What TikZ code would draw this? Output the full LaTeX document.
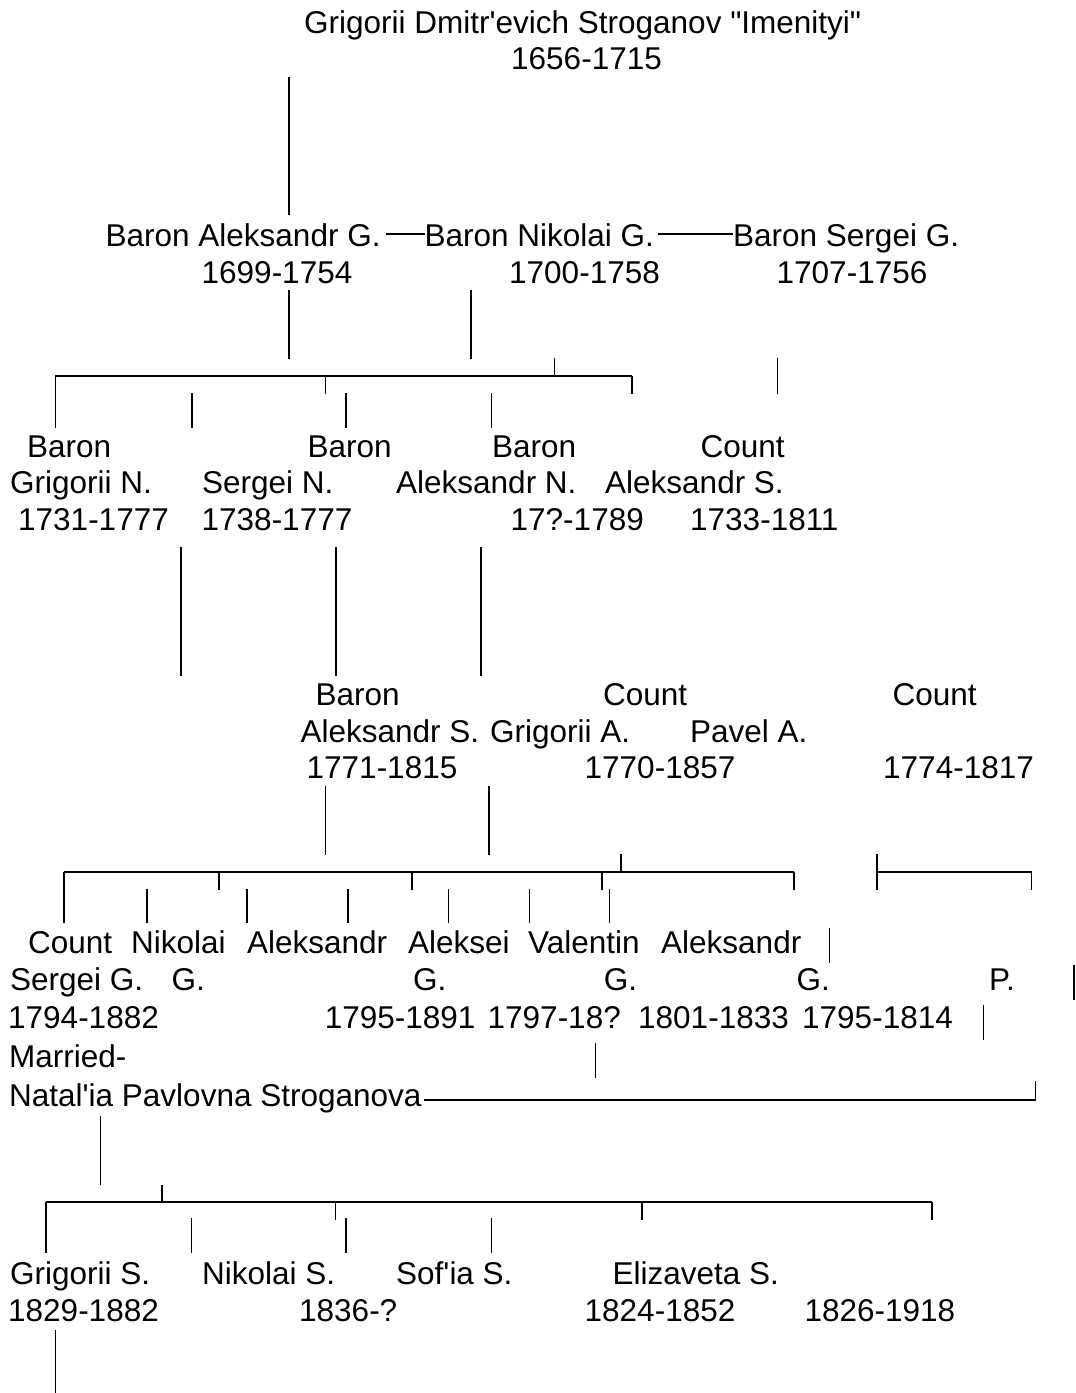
\documentclass[tikz,border=0pt]{standalone}
\usepackage{fontspec}
\setmainfont{Liberation Sans}
\newcommand\vseg[4]{\coordinate (#1a) at (#2,#3); \coordinate (#1b) at (#2,#4); \draw[vl] (#1a) -- (#1b);}
\newcommand\hseg[4]{\coordinate (#1a) at (#3,#2); \coordinate (#1b) at (#4,#2); \draw[hl] (#1a) -- (#1b);}
\begin{document}
\begin{tikzpicture}[x=1pt,y=-1pt,
  txt/.style={anchor=base west,inner sep=0pt,font=\fontsize{31.5}{37}\selectfont},
  vl/.style={line width=1.5pt,line cap=butt},
  hl/.style={line width=2pt,line cap=butt}]
\fill[white] (0,0) rectangle (1076,1393);
\useasboundingbox (0,0) rectangle (1076,1393);
% ---------------- texts ----------------
\node[txt] (gd) at (304,33) {Grigorii Dmitr\textquotesingle evich Stroganov \textquotedbl Imenityi\textquotedbl};
\node[txt] (gdy) at (511,69.5) {1656-1715};
\node[txt] (ag) at (105.5,246) {Baron Aleksandr G.};
\node[txt] (ng) at (424.5,246) {Baron Nikolai G.};
\node[txt] (sg) at (733,246) {Baron Sergei G.};
\node[txt] (agy) at (201.5,283) {1699-1754};
\node[txt] (ngy) at (509,283) {1700-1758};
\node[txt] (sgy) at (776.5,283) {1707-1756};
% row E-G
\node[txt] (e1) at (27,457) {Baron};
\node[txt] (e2) at (307.5,457) {Baron};
\node[txt] (e3) at (492,457) {Baron};
\node[txt] (e4) at (700.5,457) {Count};
\node[txt] (f1) at (10,493.5) {Grigorii N.};
\node[txt] (f2) at (202,493.5) {Sergei N.};
\node[txt] (f3) at (396,493.5) {Aleksandr N.};
\node[txt] (f4) at (605,493.5) {Aleksandr S.};
\node[txt] (g1) at (18,530) {1731-1777};
\node[txt] (g2) at (201.5,530) {1738-1777};
\node[txt] (g3) at (510.5,530) {17?-1789};
\node[txt] (g4) at (690,530) {1733-1811};
% row H-J
\node[txt] (h1) at (315.5,705.5) {Baron};
\node[txt] (h2) at (603,705.5) {Count};
\node[txt] (h3) at (892.5,705.5) {Count};
\node[txt] (i1) at (300.4,742) {Aleksandr S.};
\node[txt] (i2) at (490,742) {Grigorii A.};
\node[txt] (i3) at (690,742) {Pavel A.};
\node[txt] (j1) at (306.5,778.5) {1771-1815};
\node[txt] (j2) at (584.5,778.5) {1770-1857};
\node[txt] (j3) at (883,778.5) {1774-1817};
% row K-O
\node[txt] (k1) at (28,953.5) {Count};
\node[txt] (k2) at (131,953.5) {Nikolai};
\node[txt] (k3) at (246.8,953.5) {Aleksandr};
\node[txt] (k4) at (407.8,953.5) {Aleksei};
\node[txt] (k5) at (527.9,953.5) {Valentin};
\node[txt] (k6) at (661,953.5) {Aleksandr};
\node[txt] (l1) at (10,990.5) {Sergei G.};
\node[txt] (l2) at (171.5,990.5) {G.};
\node[txt] (l3) at (413,990.5) {G.};
\node[txt] (l4) at (603.7,990.5) {G.};
\node[txt] (l5) at (796.5,990.5) {G.};
\node[txt] (l6) at (989,990.5) {P.};
\node[txt] (m1) at (8,1028.5) {1794-1882};
\node[txt] (m2) at (324.7,1028.5) {1795-1891};
\node[txt] (m3) at (487.5,1028.5) {1797-18?};
\node[txt] (m4) at (638,1028.5) {1801-1833};
\node[txt] (m5) at (802,1028.5) {1795-1814};
\node[txt] (n1) at (9,1067) {Married-};
\node[txt] (o1) at (9,1106) {Natal\textquotesingle ia Pavlovna Stroganova};
% row P-Q
\node[txt] (p1) at (10,1284) {Grigorii S.};
\node[txt] (p2) at (202,1284) {Nikolai S.};
\node[txt] (p3) at (396,1284) {Sof\textquotesingle ia S.};
\node[txt] (p4) at (612.5,1284) {Elizaveta S.};
\node[txt] (q1) at (8,1321) {1829-1882};
\node[txt] (q2) at (299,1321) {1836-?};
\node[txt] (q3) at (584.5,1321) {1824-1852};
\node[txt] (q4) at (804.3,1321) {1826-1918};
% ---------------- connectors ----------------
% dashes between the three brothers
\coordinate (dy) at (0,233.5);
\draw[hl] ([xshift=5pt]ag.east |- dy) -- (ng.west |- dy);
\draw[hl] ([xshift=4pt]ng.east |- dy) -- (sg.west |- dy);
% first generation
\vseg{v1}{289}{77}{215}
\vseg{v2}{289}{290}{359}
\vseg{v3}{471}{290}{359}
\hseg{h1}{376}{55.4}{632}
\vseg{t1}{325.4}{376}{394}
\vseg{t2}{554.5}{358}{376}
\vseg{c1l}{55.4}{376}{428}
\vseg{c1r}{632}{376}{394}
\vseg{s1}{192}{393}{428}
\vseg{s2}{346}{393}{428}
\vseg{s3}{491.5}{393}{428}
\vseg{v4}{777.5}{358}{394}
% second generation
\vseg{v5}{181}{547}{676}
\vseg{v6}{335.8}{547}{676}
\vseg{v7}{481.2}{547}{676}
\vseg{v8}{325.4}{786}{855}
\vseg{v9}{488.8}{786}{855}
\hseg{h2}{871.7}{64}{794}
\vseg{c2l}{64}{871.7}{923.3}
\vseg{t3}{218.8}{871.7}{890}
\vseg{t4}{411.9}{871.7}{890}
\vseg{t5}{601.8}{871.7}{890}
\vseg{t6}{621.2}{854}{871.7}
\vseg{c2r}{794}{871.7}{890}
\vseg{s4}{147.1}{888.5}{923.3}
\vseg{s5}{246.8}{888.5}{923.3}
\vseg{s6}{347.9}{888.5}{923.3}
\vseg{s7}{448.3}{888.5}{923.3}
\vseg{s8}{529.6}{888.5}{923.3}
\vseg{s9}{609.4}{888.5}{923.3}
\hseg{h3}{871.7}{877}{1031.7}
\vseg{t7}{877}{854}{890}
\vseg{c3r}{1031.7}{871.7}{890}
% third generation
\vseg{r1}{829.5}{928}{963}
\vseg{r2}{1074}{965}{1000}
\vseg{r3}{983.6}{1004.7}{1039.7}
\vseg{r4}{595.5}{1043}{1078}
\coordinate (oy) at (0,1099.7);
\coordinate (oe) at (1035.5,1099.7);
\draw[hl] ([xshift=2pt]o1.east |- oy) -- (oe);
\vseg{r5}{1035.5}{1081.3}{1100.7}
% fourth generation
\vseg{v10}{100.4}{1116}{1185}
\hseg{h4}{1202}{46}{932}
\vseg{c4l}{46}{1202}{1253}
\vseg{t8}{162}{1185}{1202}
\vseg{t9}{335.5}{1202}{1220}
\vseg{t10}{642}{1202}{1220}
\vseg{c4r}{932}{1202}{1220}
\vseg{s10}{191.5}{1218}{1253}
\vseg{s11}{346.1}{1218}{1253}
\vseg{s12}{491.5}{1218}{1253}
\vseg{v11}{55.4}{1330}{1393}
\end{tikzpicture}
\end{document}
